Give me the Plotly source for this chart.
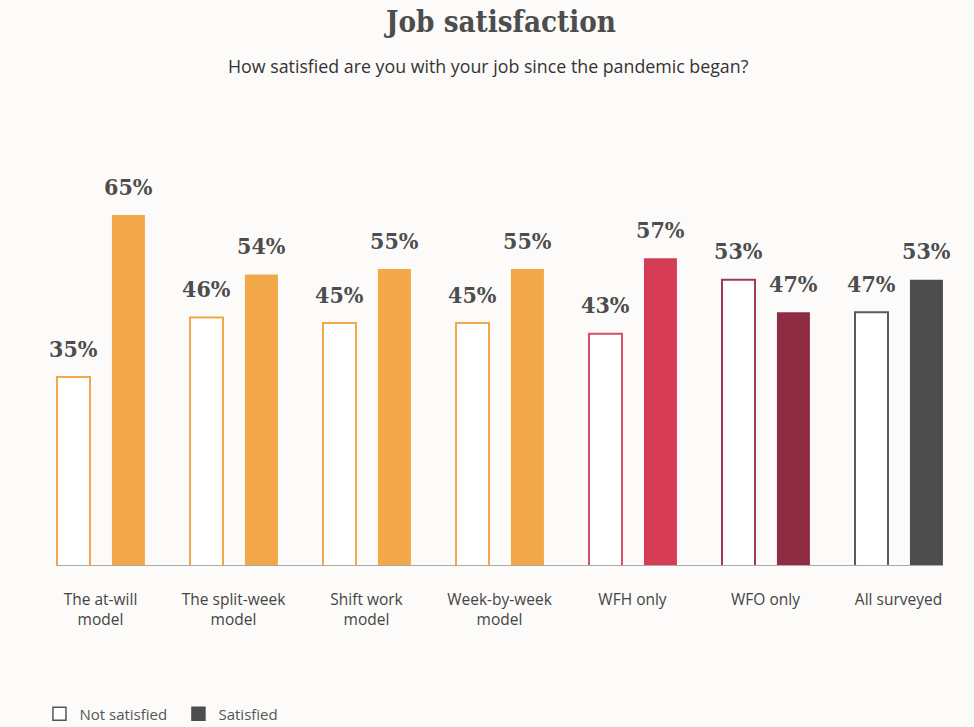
import plotly.graph_objects as go

categories = ["The at-will<br>model", "The split-week<br>model", "Shift work<br>model",
              "Week-by-week<br>model", "WFH only", "WFO only", "All surveyed"]
not_satisfied = [35, 46, 45, 45, 43, 53, 47]
satisfied = [65, 54, 55, 55, 57, 47, 53]

sat_colors = ["#F2A748", "#F2A748", "#F2A748", "#F2A748", "#D63C55", "#8E2C43", "#4D4D4D"]
ns_line_colors = ["#F2A748", "#F2A748", "#F2A748", "#F2A748", "#D2506A", "#9E3A55", "#5A5A5A"]

BG = "#FCFBF9"
W = 0.248
OFF_NS = -0.327
OFF_S = 0.086
serif = "DejaVu Serif Condensed, DejaVu Serif, serif"
sans = "Open Sans, Noto Sans, sans-serif"

H = 727
WID = 974
L, R = 34, 9
TOP, BOT = 134, 161
PLOT_H = H - TOP - BOT
PLOT_W = WID - L - R


def ypaper(px):
    return (H - BOT - px) / PLOT_H


def xpaper(px):
    return (px - L) / PLOT_W


fig = go.Figure()
fig.add_trace(go.Bar(x=categories, y=not_satisfied, width=W, offset=OFF_NS,
                     marker=dict(color="#FFFFFF", line=dict(color=ns_line_colors, width=2)),
                     showlegend=False, hoverinfo="y"))
fig.add_trace(go.Bar(x=categories, y=satisfied, width=W, offset=OFF_S,
                     marker=dict(color=sat_colors, line=dict(width=0)),
                     showlegend=False, hoverinfo="y"))

# legend entries
fig.add_trace(go.Scatter(x=[None], y=[None], mode="markers", name="Not satisfied",
                         marker=dict(symbol="square", size=13, color="#FFFFFF",
                                     line=dict(color="#555555", width=1.5))))
fig.add_trace(go.Scatter(x=[None], y=[None], mode="markers", name="Satisfied",
                         marker=dict(symbol="square", size=13, color="#4D4D4D",
                                     line=dict(color="#4D4D4D", width=1.5))))

annotations = []
for i, (a, b) in enumerate(zip(not_satisfied, satisfied)):
    for val, off in ((a, OFF_NS), (b, OFF_S)):
        annotations.append(dict(x=i + off + W / 2, y=val, xref="x", yref="y",
                                text=f"{val}%", showarrow=False, yanchor="middle", yshift=29,
                                font=dict(family=serif, size=23, color="#4D4D4D", weight="bold")))

annotations.append(dict(x=xpaper(500), y=ypaper(22), xref="paper", yref="paper", text="Job satisfaction",
                        showarrow=False, xanchor="center", yanchor="middle",
                        font=dict(family=serif, size=29.3, color="#4D4D4D", weight="bold")))
annotations.append(dict(x=xpaper(488), y=ypaper(66), xref="paper", yref="paper",
                        text="How satisfied are you with your job since the pandemic began?",
                        showarrow=False, xanchor="center", yanchor="middle",
                        font=dict(family=sans, size=17.8, color="#333333")))

fig.add_shape(type="line", xref="x", yref="y", x0=0 + OFF_NS, x1=len(categories) - 1 + OFF_S + W,
              y0=0, y1=0, line=dict(color="#AAAAAA", width=2))

fig.update_layout(
    width=WID, height=H,
    paper_bgcolor=BG, plot_bgcolor=BG,
    barmode="overlay",
    margin=dict(l=L, r=R, t=TOP, b=BOT),
    annotations=annotations,
    showlegend=True,
    legend=dict(orientation="h", xref="container", yref="container", x=0.0405, y=1 - 714 / H,
                xanchor="left", yanchor="middle", font=dict(family=sans, size=15, color="#555555"),
                entrywidth=94, entrywidthmode="pixels",
                bgcolor="rgba(0,0,0,0)"),
    xaxis=dict(range=[-0.5, 6.5], showgrid=False, zeroline=False, showline=False,
               ticks="outside", ticklen=19, tickcolor="rgba(0,0,0,0)",
               tickfont=dict(family=sans, size=15.5, color="#444444"), fixedrange=True),
    yaxis=dict(range=[0, 80], visible=False, showgrid=False, zeroline=False, fixedrange=True),
)

fig.write_html("out.html")
